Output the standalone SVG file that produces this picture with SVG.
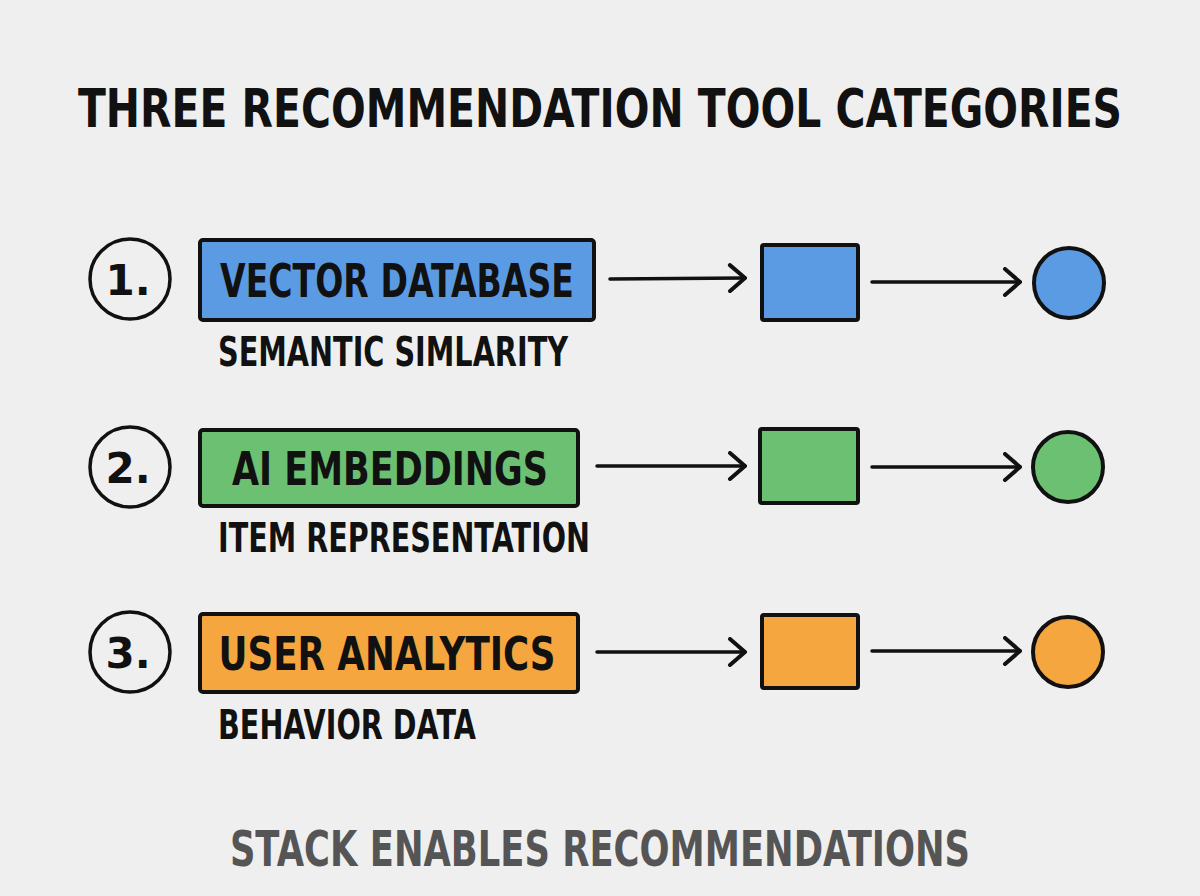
<svg xmlns="http://www.w3.org/2000/svg" width="1200" height="896" viewBox="0 0 1200 896">
<defs>
<marker id="chev" viewBox="0 0 20 30" refX="18" refY="15" markerWidth="20" markerHeight="30" markerUnits="userSpaceOnUse" orient="auto">
<path d="M3,2 L18,15 L3,28" fill="none" stroke="#111" stroke-width="4" stroke-linecap="round" stroke-linejoin="round"/>
</marker>
</defs>
<style>
.t{font-family:"DejaVu Sans","Liberation Sans",sans-serif;font-weight:bold;fill:#111}
.num{stroke:#111;stroke-width:3.5;fill:none}
.box{stroke:#111;stroke-width:4;stroke-linejoin:round}
.conn{stroke:#111;stroke-width:3.5;stroke-linecap:round;fill:none}
.blue{fill:#5B9BE4}.green{fill:#6CC072}.orange{fill:#F5A63F}
</style>
<rect width="1200" height="896" fill="#EFEFEF"/>
<text class="t" transform="scale(0.75,1)" x="800" y="127" text-anchor="middle" font-size="54" textLength="1392" lengthAdjust="spacingAndGlyphs">THREE RECOMMENDATION TOOL CATEGORIES</text>

<g id="connectors">
<line class="conn" x1="610" y1="279" x2="745" y2="278" marker-end="url(#chev)"/>
<line class="conn" x1="872" y1="282" x2="1020" y2="282" marker-end="url(#chev)"/>
<line class="conn" x1="597" y1="466" x2="745" y2="466" marker-end="url(#chev)"/>
<line class="conn" x1="872" y1="467" x2="1020" y2="467" marker-end="url(#chev)"/>
<line class="conn" x1="597" y1="652" x2="745" y2="652" marker-end="url(#chev)"/>
<line class="conn" x1="872" y1="651" x2="1020" y2="651" marker-end="url(#chev)"/>
</g>

<g id="row1">
<circle class="num" cx="130" cy="279" r="40"/>
<text class="t" x="128" y="295" text-anchor="middle" font-size="42">1.</text>
<rect class="box blue" x="200" y="240" width="394" height="80" rx="3"/>
<text class="t" x="397" y="297" text-anchor="middle" font-size="46" textLength="354" lengthAdjust="spacingAndGlyphs">VECTOR DATABASE</text>
<text class="t" x="218" y="366" font-size="40" textLength="350" lengthAdjust="spacingAndGlyphs">SEMANTIC SIMLARITY</text>
</g>
<g id="sq1"><rect class="box blue" x="762" y="245" width="96" height="75" rx="2"/></g>
<g id="c1"><circle class="box blue" cx="1069" cy="283" r="35"/></g>

<g id="row2">
<circle class="num" cx="130" cy="467" r="40"/>
<text class="t" x="128" y="483" text-anchor="middle" font-size="42">2.</text>
<rect class="box green" x="200" y="430" width="378" height="76" rx="3"/>
<text class="t" x="390" y="485" text-anchor="middle" font-size="46" textLength="316" lengthAdjust="spacingAndGlyphs">AI EMBEDDINGS</text>
<text class="t" x="218" y="552" font-size="40" textLength="372" lengthAdjust="spacingAndGlyphs">ITEM REPRESENTATION</text>
</g>
<g id="sq2"><rect class="box green" x="760" y="429" width="98" height="74" rx="2"/></g>
<g id="c2"><circle class="box green" cx="1068" cy="467" r="35"/></g>

<g id="row3">
<circle class="num" cx="130" cy="652" r="40"/>
<text class="t" x="128" y="668" text-anchor="middle" font-size="42">3.</text>
<rect class="box orange" x="200" y="614" width="378" height="78" rx="3"/>
<text class="t" x="387" y="670" text-anchor="middle" font-size="46" textLength="337" lengthAdjust="spacingAndGlyphs">USER ANALYTICS</text>
<text class="t" x="218" y="739" font-size="40" textLength="258" lengthAdjust="spacingAndGlyphs">BEHAVIOR DATA</text>
</g>
<g id="sq3"><rect class="box orange" x="762" y="615" width="96" height="73" rx="2"/></g>
<g id="c3"><circle class="box orange" cx="1068" cy="652" r="35"/></g>

<text class="t" transform="scale(0.72,1)" x="833.3" y="866" text-anchor="middle" font-size="50" style="fill:#555" textLength="1028" lengthAdjust="spacingAndGlyphs">STACK ENABLES RECOMMENDATIONS</text>
</svg>
